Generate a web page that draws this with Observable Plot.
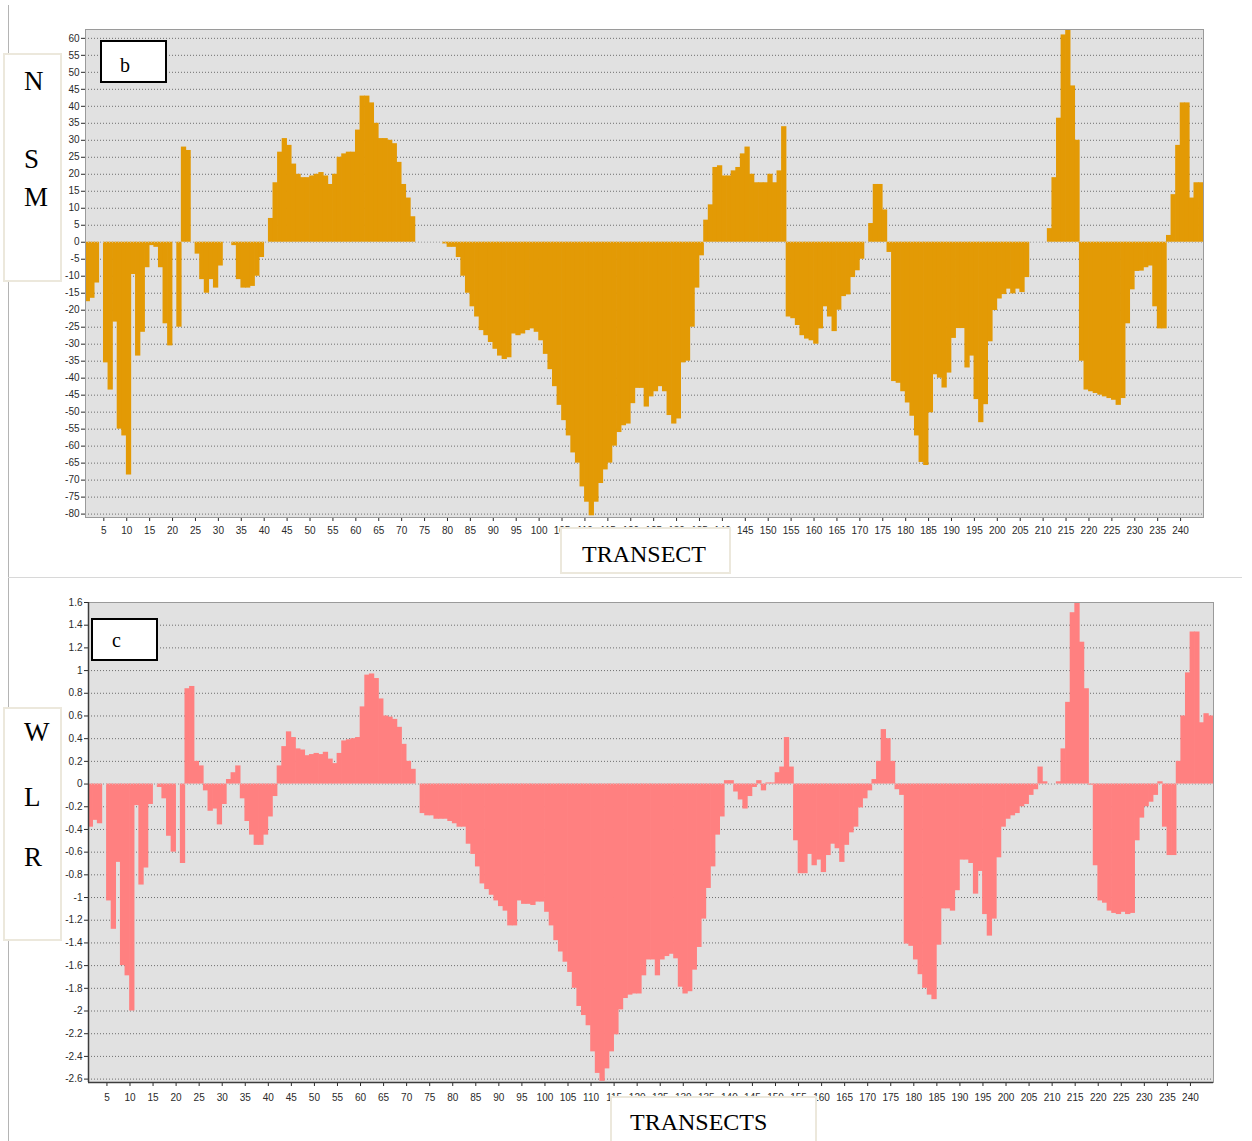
<!DOCTYPE html>
<html>
<head>
<meta charset="utf-8">
<script src="https://cdn.jsdelivr.net/npm/d3@7"></script>
<script src="https://cdn.jsdelivr.net/npm/@observablehq/plot@0.6"></script>
<style>
  html, body { margin: 0; padding: 0; background: #fff; overflow: hidden; }
  #page { position: relative; width: 1252px; height: 1141px; overflow: hidden; background: #fff; }
  .line { position: absolute; }
  .lbox { position: absolute; box-sizing: border-box; background: #fff; border: 2px solid #ece8dc; }
  .tag { position: absolute; box-sizing: border-box; background: #fff; border: 2px solid #000; }
  .txt { position: absolute; font-family: "Liberation Serif", "Times New Roman", serif; color: #000; white-space: nowrap; }
</style>
</head>
<body>
<div id="page"></div>
<script>
// ---------- data ----------
const transectTicks = [5,10,15,20,25,30,35,40,45,50,55,60,65,70,75,80,85,90,95,100,105,110,115,120,125,130,135,140,145,150,155,160,165,170,175,180,185,190,195,200,205,210,215,220,225,230,235,240];
const nsmTicks = [60,55,50,45,40,35,30,25,20,15,10,5,0,-5,-10,-15,-20,-25,-30,-35,-40,-45,-50,-55,-60,-65,-70,-75,-80];
const wlrTicks = [1.6,1.4,1.2,1,0.8,0.6,0.4,0.2,0,-0.2,-0.4,-0.6,-0.8,-1,-1.2,-1.4,-1.6,-1.8,-2,-2.2,-2.4,-2.6];

// NSM (panel b), transects 1..244
const nsm = [
  -17.5,-16.5,-12,0,-35.5,-43.5,-23.5,-55,-57,-68.5,
  -9.5,-33.5,-26.5,-7.5,-1,-1.5,-7.5,-24,-30.5,0,
  -25,28,27,0,-3.5,-11,-15,-11,-13.5,-7,
  0,0,-1,-11,-13.5,-13.5,-13,-10,-4.5,0,
  7,17.5,26.5,30.5,28.5,23,20,19,19,19.5,
  20,20.5,19.5,17,20,25,26,26.5,26.5,33,
  43,43,41,35,30.5,30.5,30,29,23.5,17,
  13,7.5,0,0,0,0,0,0,-0.5,-1.5,
  -1.5,-4.5,-10,-15,-19,-22,-26,-27.5,-29.5,-31.5,
  -33.5,-34.5,-34,-27,-27.5,-27,-26,-25.5,-26.5,-29,
  -33,-37.5,-42.5,-48,-52.5,-57,-62,-65,-72,-76.5,
  -80.5,-76.5,-71,-67,-65,-60,-56,-54,-53.5,-47.5,
  -43,-43,-48.5,-45.5,-44,-42.5,-44,-51,-53.5,-52,
  -35.5,-35,-25,-13.5,-4,6.5,11,22,22.5,19.5,
  19.5,21,22,26,28,20,17.5,17.5,17.5,20,
  17.5,21,34,-22,-22.5,-24.5,-27.5,-28.5,-29,-30,
  -25.5,-19,-22,-26.3,-20,-16,-15.5,-10.4,-8.4,-5,
  0,5.5,17,17,9.5,-3,-41,-41.5,-44,-47.3,
  -51.2,-57,-64.8,-65.7,-50.2,-39,-40,-42.9,-38.5,-28.3,
  -25.4,-25.4,-37,-33.5,-46.3,-53.1,-47.8,-29.3,-20.1,-16.7,
  -15.4,-13.8,-15.2,-13.8,-14.8,-10.4,0,0,0,0,
  4,19,36.5,61,66,46,30,-35,-43.5,-44,
  -44.5,-45,-45.5,-46,-46.5,-48,-46,-24,-14,-8.6,
  -8.5,-7.5,-7,-19,-25.5,-25.5,2,14,28.5,41,
  41,13,17.5,17.5
];

// WLR (panel c), transects 1..244
const wlr = [
  -0.38,-0.32,-0.35,0,-1.03,-1.28,-0.69,-1.6,-1.69,-2.0,
  -0.19,-0.89,-0.74,-0.18,0,-0.03,-0.13,-0.46,-0.6,0,
  -0.7,0.84,0.86,0.2,0.16,-0.06,-0.24,-0.22,-0.36,-0.18,
  0.04,0.1,0.16,-0.13,-0.33,-0.45,-0.54,-0.54,-0.45,-0.29,
  -0.11,0.16,0.33,0.46,0.41,0.31,0.3,0.25,0.26,0.27,
  0.26,0.28,0.22,0.18,0.27,0.38,0.39,0.4,0.41,0.68,
  0.96,0.97,0.93,0.75,0.6,0.59,0.57,0.5,0.35,0.2,
  0.13,0,-0.26,-0.28,-0.28,-0.31,-0.31,-0.31,-0.33,-0.35,
  -0.38,-0.38,-0.53,-0.62,-0.73,-0.88,-0.93,-0.98,-1.03,-1.08,
  -1.12,-1.25,-1.25,-1.03,-1.06,-1.06,-1.07,-1.04,-1.04,-1.13,
  -1.25,-1.38,-1.48,-1.57,-1.66,-1.8,-1.96,-2.04,-2.13,-2.36,
  -2.55,-2.62,-2.51,-2.36,-2.21,-1.99,-1.89,-1.86,-1.85,-1.85,
  -1.69,-1.55,-1.55,-1.69,-1.55,-1.52,-1.5,-1.54,-1.79,-1.85,
  -1.83,-1.64,-1.44,-1.19,-0.92,-0.73,-0.45,-0.29,0.03,0.03,
  -0.07,-0.14,-0.22,-0.11,-0.03,0.03,-0.06,0.01,0.01,0.1,
  0.15,0.41,0.15,-0.5,-0.79,-0.79,-0.62,-0.72,-0.67,-0.78,
  -0.63,-0.53,-0.57,-0.69,-0.54,-0.43,-0.38,-0.21,-0.13,-0.06,
  0.04,0.2,0.48,0.4,0.2,-0.05,-0.1,-1.41,-1.43,-1.55,
  -1.68,-1.8,-1.86,-1.9,-1.42,-1.1,-1.1,-1.12,-0.94,-0.67,
  -0.67,-0.7,-0.97,-0.77,-1.15,-1.34,-1.19,-0.65,-0.38,-0.31,
  -0.28,-0.26,-0.2,-0.18,-0.1,-0.05,0.15,0.02,0,0,
  0.02,0.31,0.72,1.51,1.6,1.25,0.84,-0.01,-0.72,-1.03,
  -1.05,-1.12,-1.14,-1.15,-1.13,-1.15,-1.14,-0.5,-0.3,-0.2,
  -0.16,-0.1,0.02,-0.38,-0.63,-0.63,0.2,0.6,0.98,1.34,
  1.34,0.54,0.62,0.6
];

// ---------- build ----------
const page = document.getElementById("page");
const nsmData = nsm.map((v, i) => ({t: i + 1, v}));
const wlrData = wlr.map((v, i) => ({t: i + 1, v}));
const xDomain = [1, 245];
const nsmDomain = [-81, 62.6];
const wlrDomain = [-2.63, 1.6];

const axisStyle = {fontFamily: "'Liberation Sans', Arial, sans-serif", fontSize: "10px", color: "#2a2a2a", background: "transparent", overflow: "visible"};
const barOpts = {insetLeft: -0.35, insetRight: -0.35, clip: true};

const topChart = Plot.plot({
  width: 1252, height: 545,
  marginLeft: 85, marginRight: 49, marginTop: 29, marginBottom: 28,
  style: axisStyle,
  x: {type: "linear", domain: xDomain, ticks: transectTicks, tickSize: 4, tickPadding: 5, tickFormat: d => String(d), label: null},
  y: {type: "linear", domain: nsmDomain, ticks: nsmTicks, tickSize: 4, tickPadding: 2, tickFormat: d => String(d), label: null},
  marks: [
    Plot.frame({fill: "#e1e1e1", stroke: null}),
    Plot.ruleY(nsmTicks, {stroke: "#6e6e6e", strokeDasharray: "1,2", strokeWidth: 1}),
    Plot.rect(nsmData, {x1: "t", x2: d => d.t + 1, y1: 0, y2: "v", fill: "#e39a05", ...barOpts}),
    Plot.ruleY([0], {stroke: "#d9d9d9", strokeDasharray: "1,2", strokeOpacity: 0.7}),
    Plot.frame({stroke: "#9a9a9a", fill: null})
  ]
});

const botChart = Plot.plot({
  width: 1252, height: 540,
  marginLeft: 88, marginRight: 39, marginTop: 22, marginBottom: 38,
  style: axisStyle,
  x: {type: "linear", domain: xDomain, ticks: transectTicks, tickSize: 4, tickPadding: 7, tickFormat: d => String(d), label: null},
  y: {type: "linear", domain: wlrDomain, ticks: wlrTicks, tickSize: 4, tickPadding: 2, tickFormat: d => String(+d.toFixed(1)), label: null},
  marks: [
    Plot.frame({fill: "#e1e1e1", stroke: null}),
    Plot.ruleY(wlrTicks, {stroke: "#6e6e6e", strokeDasharray: "1,2", strokeWidth: 1}),
    Plot.rect(wlrData, {x1: "t", x2: d => d.t + 1, y1: 0, y2: "v", fill: "#ff8080", ...barOpts}),
    Plot.ruleY([0], {stroke: "#d9d9d9", strokeDasharray: "1,2", strokeOpacity: 0.7}),
    Plot.frame({stroke: "#9a9a9a", fill: null}),
    Plot.ruleX([xDomain[0]], {stroke: "#3c3c3c", strokeWidth: 1.5}),
    Plot.ruleY([wlrDomain[0]], {stroke: "#3c3c3c", strokeWidth: 1.5})
  ]
});

function place(el, left, top) {
  el.style.position = "absolute";
  el.style.left = left + "px";
  el.style.top = top + "px";
  el.style.maxWidth = "none";
  page.appendChild(el);
}
place(topChart, 0, 0);
place(botChart, 0, 580);

function div(cls, css, text) {
  const d = document.createElement("div");
  d.className = cls;
  Object.assign(d.style, css);
  if (text != null) d.textContent = text;
  page.appendChild(d);
  return d;
}

// page rules (document frame lines)
div("line", {left: "8px", top: "5px", width: "1px", height: "1136px", background: "#b4b4b4"});
div("line", {left: "8px", top: "577px", width: "1234px", height: "1px", background: "#d8d8d8"});

// y-axis title boxes
div("lbox", {left: "3px", top: "53px", width: "59px", height: "229px"});
div("txt", {left: "24px", top: "68px", fontSize: "27px", lineHeight: "27px"}, "N");
div("txt", {left: "24px", top: "146px", fontSize: "27px", lineHeight: "27px"}, "S");
div("txt", {left: "24px", top: "184px", fontSize: "27px", lineHeight: "27px"}, "M");

div("lbox", {left: "3px", top: "707px", width: "59px", height: "234px"});
div("txt", {left: "24px", top: "719px", fontSize: "27px", lineHeight: "27px"}, "W");
div("txt", {left: "24px", top: "784px", fontSize: "27px", lineHeight: "27px"}, "L");
div("txt", {left: "24px", top: "844px", fontSize: "27px", lineHeight: "27px"}, "R");

// panel tags
div("tag", {left: "100px", top: "40px", width: "67px", height: "43px"});
div("txt", {left: "120px", top: "55px", fontSize: "20px", lineHeight: "20px"}, "b");
div("tag", {left: "91px", top: "618px", width: "67px", height: "43px"});
div("txt", {left: "112px", top: "630px", fontSize: "20px", lineHeight: "20px"}, "c");

// x-axis title boxes
div("lbox", {left: "560px", top: "527px", width: "171px", height: "47px"});
div("txt", {left: "582px", top: "542px", fontSize: "24px", lineHeight: "24px"}, "TRANSECT");
div("lbox", {left: "610px", top: "1096px", width: "207px", height: "52px"});
div("txt", {left: "630px", top: "1110px", fontSize: "24px", lineHeight: "24px"}, "TRANSECTS");
</script>
</body>
</html>
